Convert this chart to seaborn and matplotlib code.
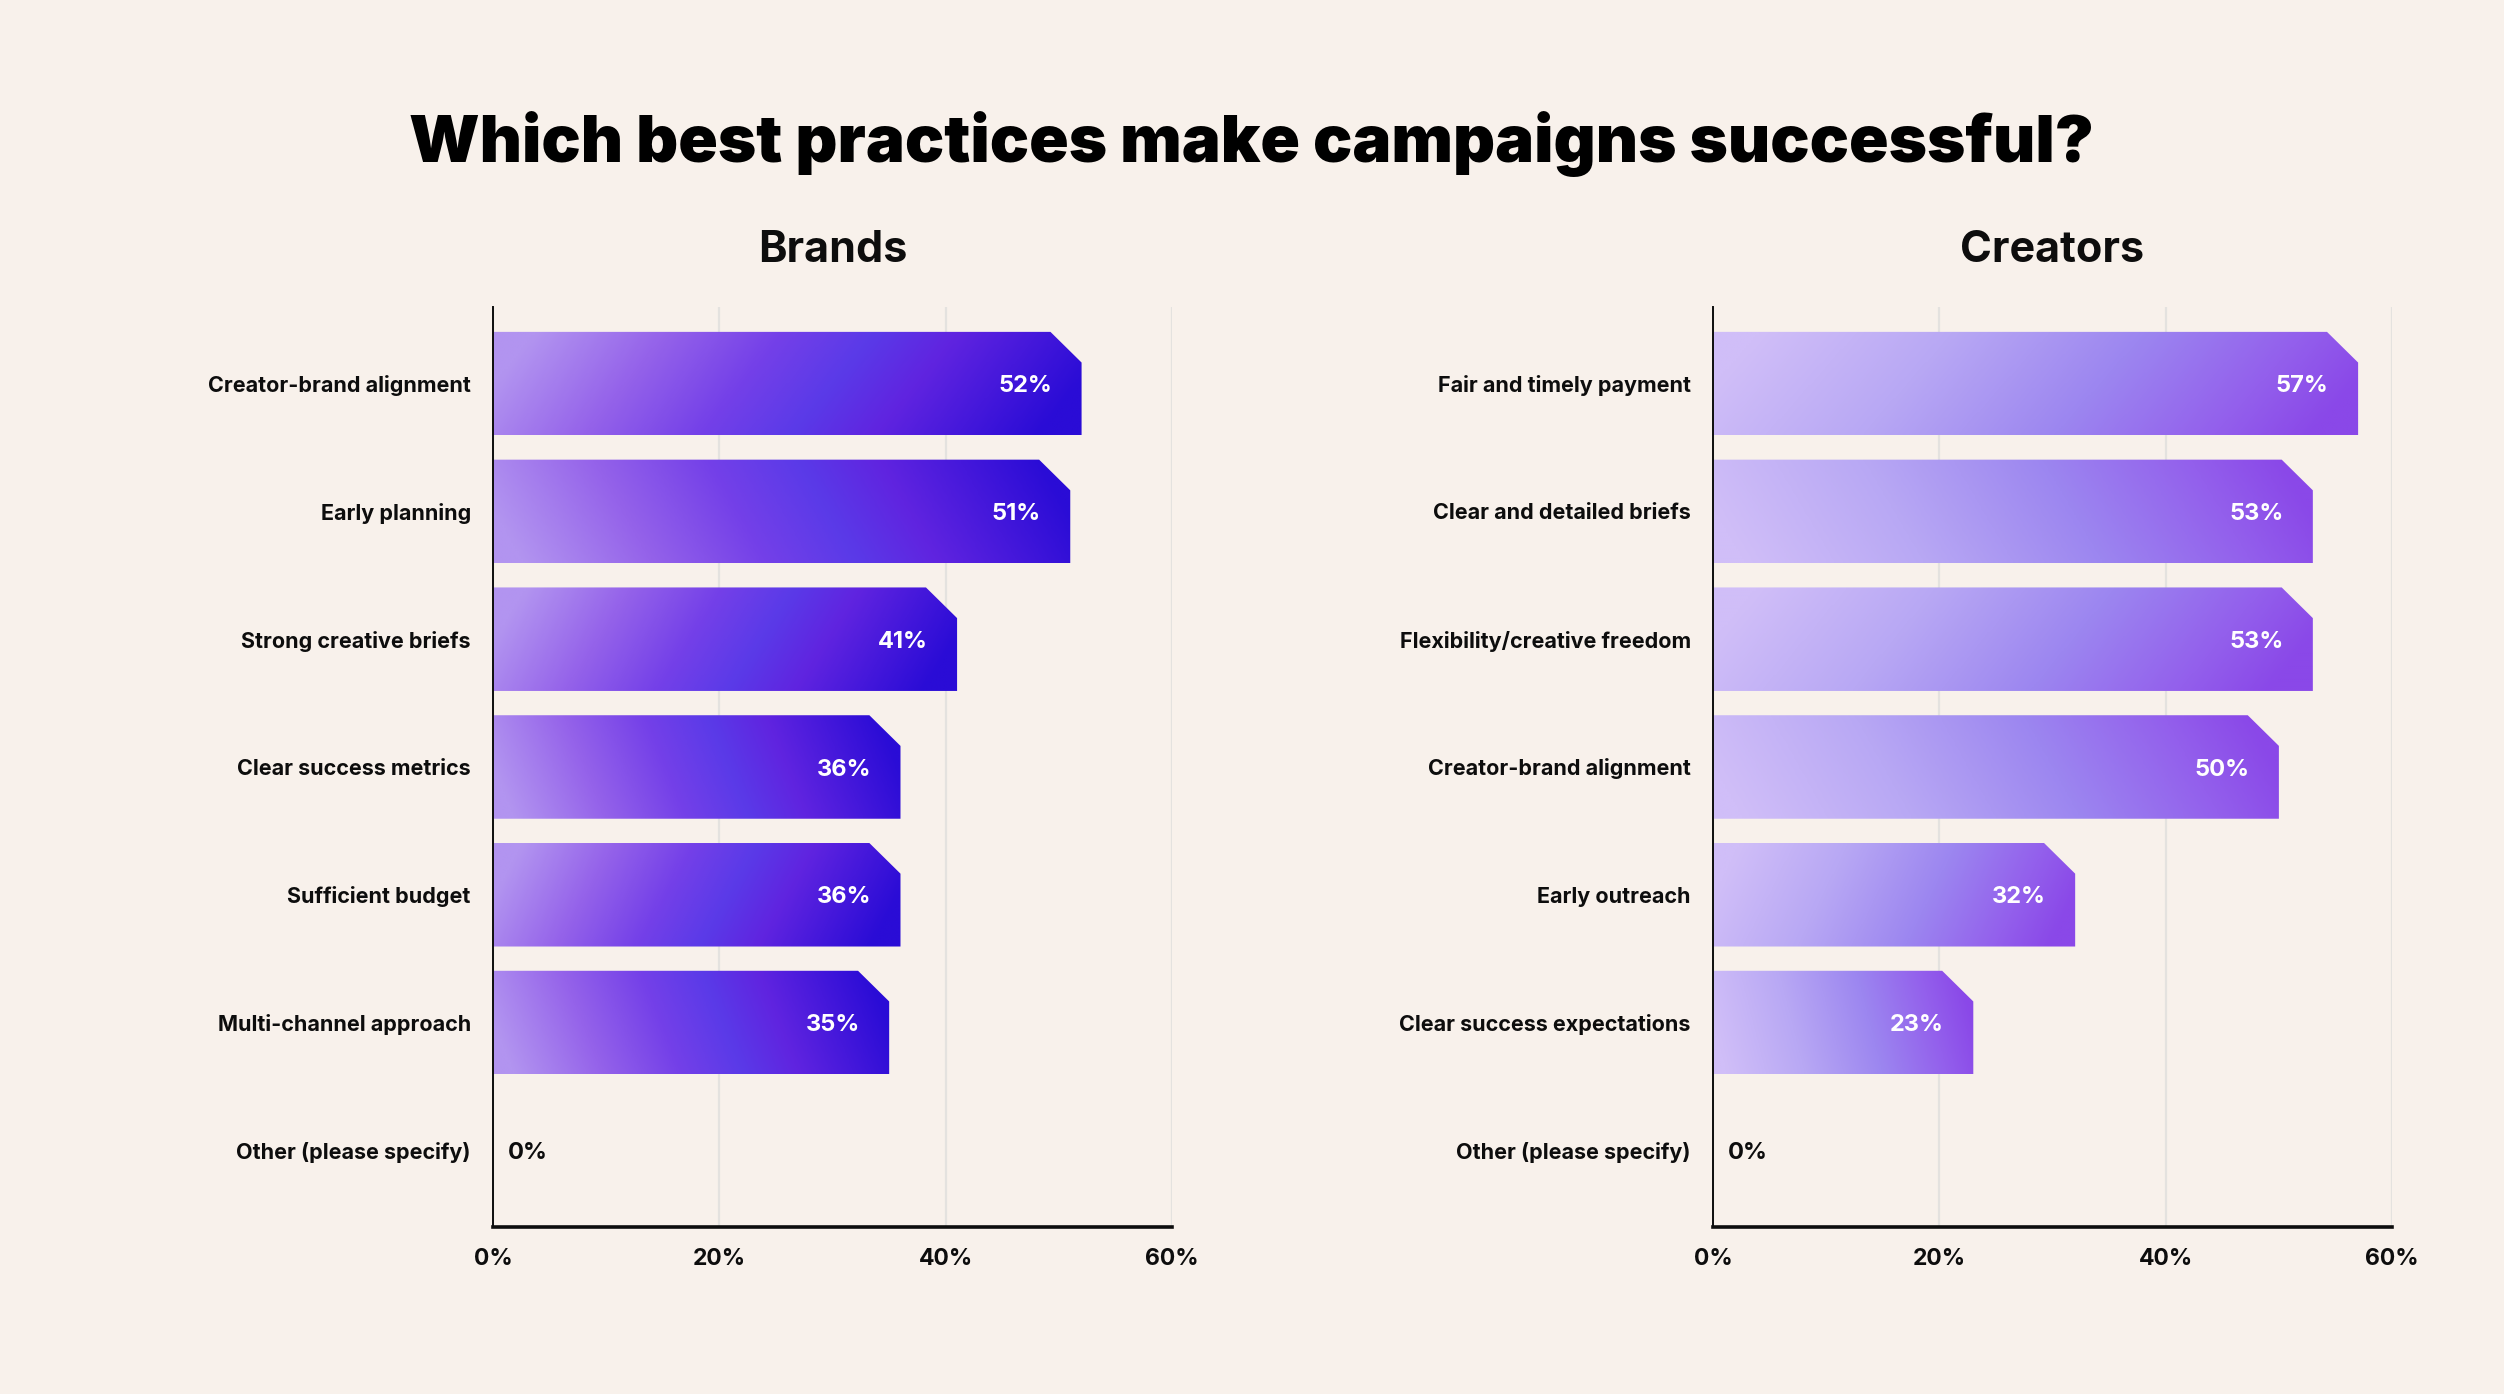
"""
Which best practices make campaigns successful? Brands vs creators.
"""
import numpy as np
import pandas as pd
import matplotlib
matplotlib.use('Agg')
import matplotlib.pyplot as plt
from matplotlib.colors import LinearSegmentedColormap
from matplotlib.patches import Polygon
import seaborn as sns

title = 'Which best practices make campaigns successful?'
panel_titles = ['Brands', 'Creators']

brand_labels = ['Creator-brand alignment', 'Early planning',
                'Strong creative briefs', 'Clear success metrics',
                'Sufficient budget', 'Multi-channel approach',
                'Other (please specify)']
brand_values = [52, 51, 41, 36, 36, 35, 0]

creator_labels = ['Fair and timely payment', 'Clear and detailed briefs',
                  'Flexibility/creative freedom', 'Creator-brand alignment',
                  'Early outreach', 'Clear success expectations',
                  'Other (please specify)']
creator_values = [57, 53, 53, 50, 32, 23, 0]

x_ticks = [0, 20, 40, 60]
x_ticklabels = ['0%', '20%', '40%', '60%']

BG = '#f8f1eb'
INK = '#0d0d0d'

brand_cmap = LinearSegmentedColormap.from_list('brand', [
    (0.0, '#b294f0'), (0.22, '#9563ea'), (0.42, '#7440e8'),
    (0.58, '#5a3ae8'), (0.72, '#6024e0'), (1.0, '#2a0cd6')])
creator_cmap = LinearSegmentedColormap.from_list('creator', [
    (0.0, '#d0bef8'), (0.3, '#b8a8f4'), (0.6, '#9c86f0'),
    (0.85, '#935fec'), (1.0, '#8a48e8')])


def gradient(cmap, tilt):
    nx, ny = 300, 40
    t = np.linspace(0, 1, nx)[None, :]
    v = np.linspace(0, 1, ny)[:, None]
    s = np.clip(t + tilt * (v - 0.5), 0, 1)
    return cmap(s)


def draw_panel(ax, labels, values, cmap, name):
    df = pd.DataFrame({'label': labels, 'value': values})
    sns.barplot(data=df, x='value', y='label', orient='h', ax=ax,
                width=0.81, color='#7a4ae8', saturation=1)
    ax.set_xlim(0, 60)
    ax.set_ylim(6.6, -0.6)
    cut_x, cut_y = 2.75, 0.24
    for i, bar in enumerate(list(ax.patches)):
        x0, y0 = bar.get_x(), bar.get_y()
        w, h = bar.get_width(), bar.get_height()
        bar.set_visible(False)
        if w <= 0:
            continue
        x1 = x0 + w
        poly = Polygon([(x0, y0), (x1 - cut_x, y0), (x1, y0 + cut_y),
                        (x1, y0 + h), (x0, y0 + h)], closed=True,
                       facecolor='none', edgecolor='none',
                       transform=ax.transData)
        ax.add_patch(poly)
        tilt = 0.14 if i % 2 == 0 else -0.10
        im = ax.imshow(gradient(cmap, tilt), extent=(x0, x1, y0 + h, y0),
                       aspect='auto', interpolation='bilinear', zorder=2)
        im.set_clip_path(poly)
    ax.set_xlim(0, 60)
    ax.set_ylim(6.6, -0.6)

    for i, v in enumerate(values):
        if v > 0:
            ax.text(v - 2.6, i + 0.02, f'{v}%', ha='right', va='center',
                    color='white', fontsize=17, fontweight='bold', zorder=3)
        else:
            ax.text(1.3, i + 0.02, f'{v}%', ha='left', va='center',
                    color=INK, fontsize=17, fontweight='bold', zorder=3)

    ax.set_xticks(x_ticks)
    ax.set_xticklabels(x_ticklabels, fontsize=16.5, fontweight='bold',
                       color=INK)
    ax.tick_params(axis='x', length=0, pad=15)
    ax.tick_params(axis='y', length=0, pad=16, labelsize=15.5,
                   labelcolor=INK)
    for lab in ax.get_yticklabels():
        lab.set_fontweight('bold')
        lab.set_va('center_baseline')
    ax.set_xlabel('')
    ax.set_ylabel('')
    ax.set_facecolor(BG)
    ax.grid(axis='x', color='#e4e2df', lw=1.6)
    ax.grid(axis='y', visible=False)
    ax.set_axisbelow(True)
    for side in ['top', 'right']:
        ax.spines[side].set_visible(False)
    ax.spines['left'].set_color(INK)
    ax.spines['left'].set_linewidth(1.4)
    ax.spines['bottom'].set_color(INK)
    ax.spines['bottom'].set_linewidth(2.6)
    ax.text(0.5, 1.061, name, transform=ax.transAxes, ha='center',
            va='center', fontsize=31, fontweight='bold', color=INK)


sns.set_theme(style='white')
plt.rcParams['font.family'] = ['Inter', 'DejaVu Sans']

fig = plt.figure(figsize=(25.04, 13.94), dpi=100, facecolor=BG)
ax_left = fig.add_axes([0.1969, 0.1198, 0.2712, 0.660])
ax_right = fig.add_axes([0.6841, 0.1198, 0.2712, 0.660])

draw_panel(ax_left, brand_labels, brand_values, brand_cmap, panel_titles[0])
draw_panel(ax_right, creator_labels, creator_values, creator_cmap,
           panel_titles[1])

fig.text(0.4996, 0.897, title, ha='center', va='center', fontsize=47,
         fontweight='black', color='black')

fig.savefig('out.png', dpi=100, facecolor=BG)
